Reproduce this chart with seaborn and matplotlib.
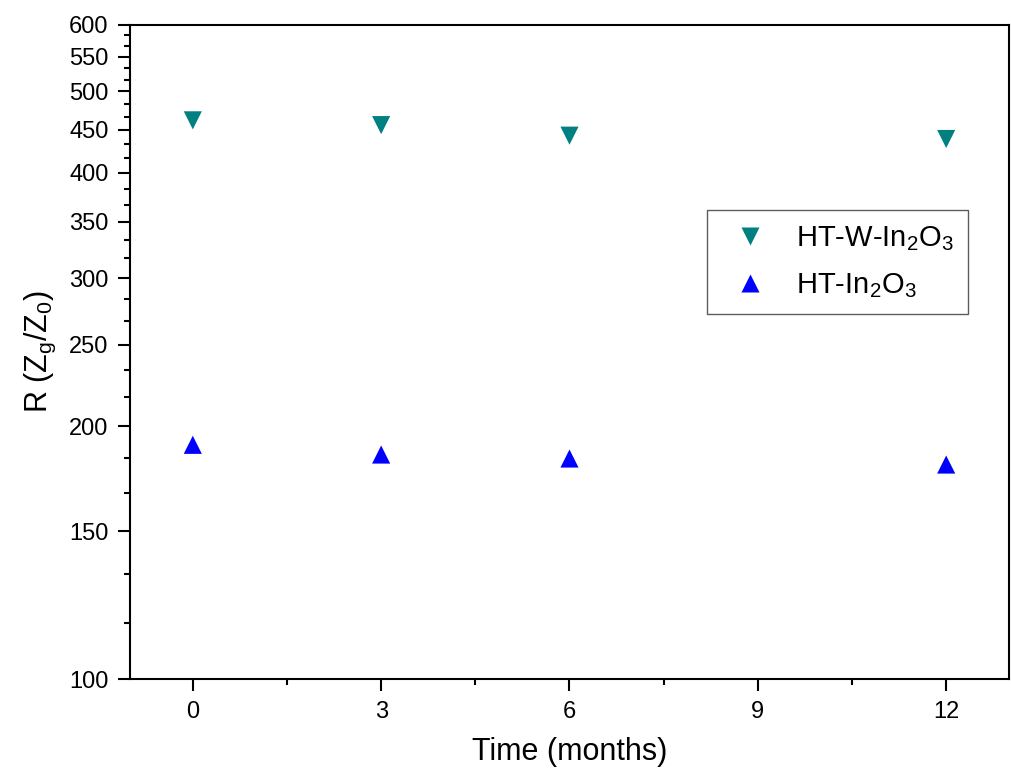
import numpy as np
import pandas as pd
import seaborn as sns
import matplotlib.pyplot as plt

# values
months = [0, 3, 6, 12]
r_ht_w = [462, 456, 443, 439]
r_ht = [190, 185, 183, 180]
label_w = 'HT-W-In$\\mathregular{_2}$O$\\mathregular{_3}$'
label_ht = 'HT-In$\\mathregular{_2}$O$\\mathregular{_3}$'

y_major = [100, 150, 200, 250, 300, 350, 400, 450, 500, 550, 600]
x_major = [0, 3, 6, 9, 12]
x_minor = [1.5, 4.5, 7.5, 10.5]

df = pd.DataFrame({
    'Time': months * 2,
    'R': r_ht_w + r_ht,
    'Sample': [label_w] * len(months) + [label_ht] * len(months),
})

sns.set_style('ticks')
plt.rcParams['font.family'] = ['Liberation Sans', 'DejaVu Sans']
plt.rcParams['mathtext.default'] = 'regular'
plt.rcParams['text.color'] = 'black'
plt.rcParams['axes.labelcolor'] = 'black'
plt.rcParams['xtick.color'] = 'black'
plt.rcParams['ytick.color'] = 'black'

fig, ax = plt.subplots(figsize=(10.11, 7.78), dpi=100)
fig.subplots_adjust(left=0.1286, right=0.998, top=0.968, bottom=0.127)

sns.scatterplot(data=df, x='Time', y='R', hue='Sample', style='Sample',
                palette={label_w: '#008080', label_ht: '#0000ff'},
                markers={label_w: 'v', label_ht: '^'},
                s=170, edgecolor='none', ax=ax)

ax.set_yscale('log')
ax.set_ylim(100, 600)
ax.set_xlim(-1, 13)

ax.set_yticks(y_major)
ax.set_yticklabels([str(v) for v in y_major])
y_minor = []
for a, b in zip(y_major[:-1], y_major[1:]):
    y_minor += [a + (b - a) / 3, a + 2 * (b - a) / 3]
ax.set_yticks(y_minor, minor=True)
ax.set_yticklabels([], minor=True)
ax.set_xticks(x_major)
ax.set_xticks(x_minor, minor=True)

ax.tick_params(which='major', direction='out', length=8.5, width=1.5,
               labelsize=17, pad=7, top=False, right=False)
ax.tick_params(which='minor', direction='out', length=4, width=1.5,
               top=False, right=False)
for sp in ax.spines.values():
    sp.set_linewidth(1.5)
    sp.set_color('black')

ax.set_xlabel('Time (months)', fontsize=22, labelpad=10)
ax.set_ylabel('R (Z$\\mathregular{_g}$/Z$\\mathregular{_0}$)', fontsize=22, labelpad=8)

leg = ax.legend(loc='upper left', bbox_to_anchor=(0.656, 0.717), fontsize=21,
                frameon=True, fancybox=False, edgecolor='#333333',
                handletextpad=0.55, borderpad=0.5, labelspacing=0.6,
                borderaxespad=0, markerscale=1.0)
leg.get_frame().set_linewidth(1.0)

plt.savefig('out.png', dpi=100)
